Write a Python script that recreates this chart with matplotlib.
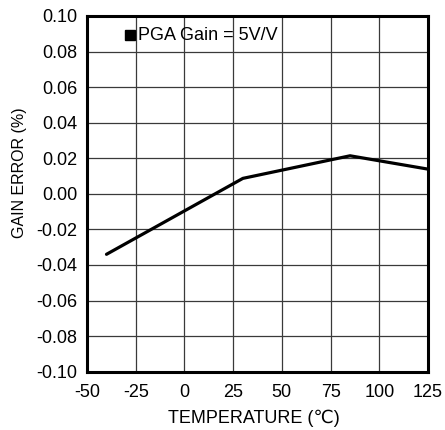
import matplotlib
matplotlib.use("Agg")
import matplotlib.pyplot as plt

plt.rcParams['font.family'] = ['Liberation Sans', 'DejaVu Sans']
plt.rcParams['axes.unicode_minus'] = False

# gain error vs temperature, PGA gain = 5V/V
temperature = [-40, 30, 85, 125]
gain_error = [-0.034, 0.0087, 0.0214, 0.0139]

x_ticks = [-50, -25, 0, 25, 50, 75, 100, 125]
y_ticks = [-0.10, -0.08, -0.06, -0.04, -0.02, 0.00, 0.02, 0.04, 0.06, 0.08, 0.10]

fig = plt.figure(figsize=(4.45, 4.3), dpi=100)
ax = fig.add_axes([0.1955, 0.1356, 0.7663, 0.8272])

ax.plot(temperature, gain_error, color="black", linewidth=2.3, solid_capstyle="round")

ax.set_xlim(-50, 125)
ax.set_ylim(-0.10, 0.10)
ax.set_xticks(x_ticks)
ax.set_yticks(y_ticks)
ax.set_yticklabels(["%.2f" % v for v in y_ticks])
ax.grid(True, color="#3a3a3a", linewidth=0.9)
ax.set_axisbelow(True)
ax.tick_params(length=0, labelsize=13)
ax.tick_params(axis="x", pad=9)
ax.tick_params(axis="y", pad=7)

for s in ax.spines.values():
    s.set_linewidth(2.2)
    s.set_color("black")

ax.set_xlabel("TEMPERATURE (\u2103)", fontsize=13, va="center")
ax.xaxis.set_label_coords(0.488, -0.13)
ax.set_ylabel("GAIN ERROR (%)", fontsize=11.5, va="center")
ax.yaxis.set_label_coords(-0.197, 0.56)

ax.plot([-27.9], [0.0893], marker="s", color="black", markersize=7.5, linestyle="none")
ax.text(-23.8, 0.0893, "PGA Gain = 5V/V", fontsize=13, va="center", ha="left")

fig.savefig("out.png", dpi=100)
